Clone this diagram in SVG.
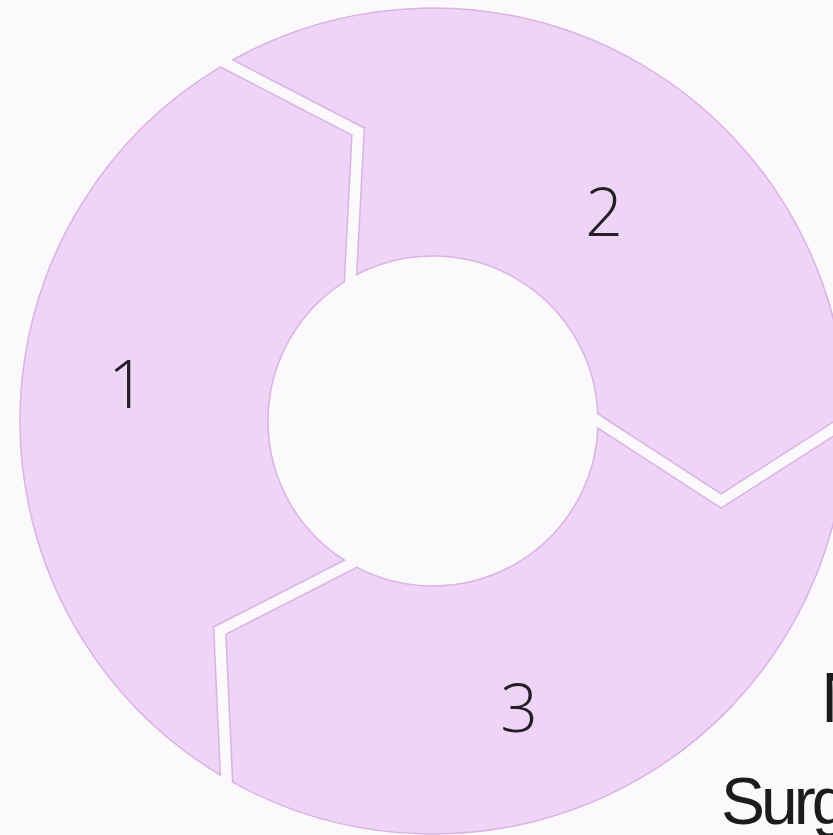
<svg xmlns="http://www.w3.org/2000/svg" width="833" height="835" viewBox="0 0 833 835">
  <style>
    .seg { fill: #eed4f7; stroke: #d9b3e2; stroke-width: 1.5; stroke-linejoin: miter; }
    .num { font-family: "Open Sans", "Liberation Sans", sans-serif; font-weight: 300; font-size: 66px; fill: #231f24; text-anchor: middle; }
    .lbl { font-family: "Liberation Sans", Arial, sans-serif; fill: #1e1b1f; letter-spacing: -4px; }
  </style>
  <rect x="0" y="0" width="833" height="835" fill="#fcf9fc"/>
  <g id="connectors"></g>
  <g id="segment-1">
    <path class="seg" d="M220.33,775.05 A413,413 0 0 1 220.39,66.92 L351.94,135.08 L344.30,281.87 A165,165 0 0 0 344.46,560.24 L213.57,626.98 Z"/>
    <text class="num" x="127" y="408">1</text>
  </g>
  <g id="segment-2">
    <path class="seg" d="M232.73,59.79 A413,413 0 0 1 845.94,413.91 L721.14,493.76 L597.84,413.75 A165,165 0 0 0 356.68,274.70 L364.33,127.98 Z"/>
    <text class="num" x="604" y="236">2</text>
  </g>
  <g id="segment-3">
    <path class="seg" d="M845.94,428.16 A413,413 0 0 1 232.67,782.18 L225.92,634.16 L356.86,567.39 A165,165 0 0 0 597.85,428.05 L721.10,508.04 Z"/>
    <text class="num" x="519" y="732">3</text>
  </g>
  <g id="label">
    <text class="lbl" x="821" y="722" font-size="70">N</text>
    <text class="lbl" x="721" y="824" font-size="66">Surg</text>
  </g>
</svg>
